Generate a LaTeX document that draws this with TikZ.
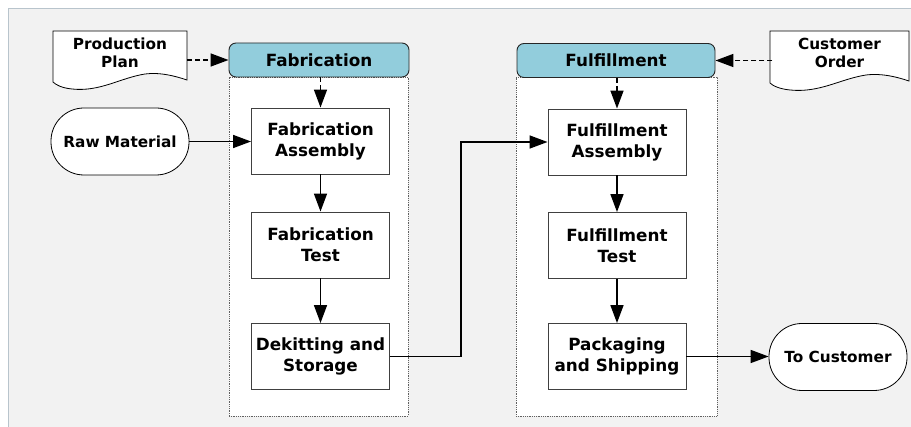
\documentclass[tikz,border=0pt]{standalone}
\usepackage{fontspec}
\setmainfont{DejaVu Sans}
\usetikzlibrary{arrows.meta}
\definecolor{bggray}{HTML}{F2F2F2}
\definecolor{framegray}{HTML}{B8C4CC}
\definecolor{hdrblue}{HTML}{92CDDC}
\definecolor{dotgray}{HTML}{606060}
\tikzset{
  proc/.style={draw=black!75, fill=white, line width=0.9pt, minimum width=138pt, minimum height=66pt,
    align=center, font=\fontsize{16.8}{21}\selectfont\bfseries, inner sep=0pt},
  term/.style={draw=black, fill=white, line width=0.8pt, rounded corners=33pt, minimum width=138pt,
    minimum height=67pt, align=center, font=\fontsize{15.3}{18}\selectfont\bfseries, inner sep=0pt},
  hdr/.style={draw=black!85, fill=hdrblue, line width=0.9pt, rounded corners=7pt, minimum height=34pt,
    align=center, font=\fontsize{16.8}{20}\selectfont\bfseries, inner sep=0pt},
  cont/.style={draw=dotgray, fill=white, line width=0.8pt, densely dotted, inner sep=0pt},
  docnode/.style={minimum width=134pt, minimum height=50pt, align=center,
    font=\fontsize{15.3}{17.5}\selectfont\bfseries, inner sep=0pt},
  docshape/.style={draw=black, fill=white, line width=0.8pt},
  flow/.style={draw=black, line width=1.5pt, -{Triangle[length=18pt,width=13pt]}},
  dflow/.style={draw=black, line width=1.5pt, dash pattern=on 5pt off 3pt, -{Triangle[length=18pt,width=13pt]}},
}
\begin{document}
\begin{tikzpicture}[x=1pt,y=-1pt]
\useasboundingbox (0,0) rectangle (911,427);
\fill[white] (0,0) rectangle (911,427);
\fill[bggray] (9,9) rectangle (911,427);
\draw[framegray, line width=1.5pt] (8.5,427) -- (8.5,8.5) -- (911,8.5);

% containers
\node[cont, minimum width=179pt, minimum height=339pt] (fcont) at (318.5,246.5) {};
\node[cont, minimum width=201pt, minimum height=339pt] (ucont) at (616.5,246.5) {};

% headers
\node[hdr, minimum width=180pt] (fh) at (319,60) {Fabrication};
\node[hdr, minimum width=198pt] (uh) at (616,60.5) {Fulfillment};

% process boxes
\node[proc] (fa) at (320.5,141) {Fabrication\\Assembly};
\node[proc] (ft) at (320.5,245) {Fabrication\\Test};
\node[proc] (ds) at (320.5,356.5) {Dekitting and\\Storage};
\node[proc] (pa) at (617,142) {Fulfillment\\Assembly};
\node[proc] (pt) at (617,245.5) {Fulfillment\\Test};
\node[proc] (ps) at (617,356.5) {Packaging\\and Shipping};

% terminals
\node[term] (rm) at (120,141.5) {Raw Material};
\node[term] (tc) at (838,357) {To Customer};

% documents
\draw[docshape] (53,31) -- (187,31) -- (187,80)
  .. controls (175,76) and (160,72) .. (145,74)
  .. controls (120,78) and (100,92) .. (72,89)
  .. controls (62,88) and (56,85) .. (53,82) -- cycle;
\node[docnode] (pp) at (120,53) {Production\\Plan};
\draw[docshape] (770,31) -- (909,31) -- (909,81)
  .. controls (897,77) and (882,73) .. (866,75)
  .. controls (840,79) and (820,93) .. (790,90)
  .. controls (780,89) and (773,86) .. (770,83) -- cycle;
\node[docnode] (co) at (839.5,53) {Customer\\Order};

% connectors
\draw[dflow] (pp.east |- fh.west) -- (fh.west);
\draw[dflow] (fh.south -| fa.north) -- (fa.north);
\draw[dflow] (co.west |- uh.east) -- (uh.east);
\draw[dflow] (uh.south -| pa.north) -- (pa.north);
\draw[flow] (rm.east) -- (rm.east -| fa.west);
\draw[flow] (fa) -- (ft);
\draw[flow] (ft) -- (ds);
\draw[flow] (pa) -- (pt);
\draw[flow] (pt) -- (ps);
\coordinate (bend) at (461,0);
\draw[flow] (ds.east) -- (ds.east -| bend) -- (bend |- pa.west) -- (pa.west);
\draw[flow] (ps.east) -- (ps.east -| tc.west) ;
\end{tikzpicture}
\end{document}
